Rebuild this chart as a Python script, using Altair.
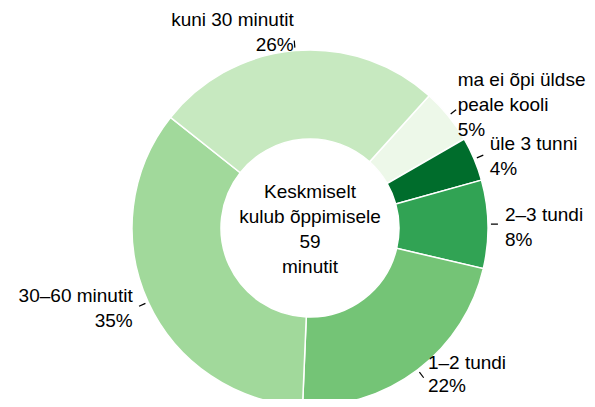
import math
import altair as alt
import pandas as pd

categories = ["ma ei õpi üldse peale kooli", "üle 3 tunni", "2–3 tundi", "1–2 tundi", "30–60 minutit", "kuni 30 minutit"]
labels = ["ma ei õpi üldse\npeale kooli\n5%", "üle 3 tunni\n4%", "2–3 tundi\n8%", "1–2 tundi\n22%", "30–60 minutit\n35%", "kuni 30 minutit\n26%"]
values = [5, 4, 8, 22, 35, 26]
colors = ["#edf8e9", "#006d2c", "#31a354", "#74c476", "#a1d99b", "#c7e9c0"]
center_text = "Keskmiselt\nkulub õppimisele\n59\nminutit"

START = 0.733
CX, CY = 302, 220
R_OUT, R_IN = 178, 89
FS = 19
LH = 25

df = pd.DataFrame({"category": categories, "label": labels, "value": values, "idx": list(range(len(values)))})

base = alt.Chart(df)
theta = alt.Theta("value:Q", stack=True, scale=alt.Scale(range=[START, START + 2 * math.pi]))
order = alt.Order("idx:Q", sort="ascending")
px = alt.value(CX)
py = alt.value(CY)

arcs = base.mark_arc(outerRadius=R_OUT, innerRadius=R_IN, stroke="white", strokeWidth=1.5).encode(
    theta=theta,
    order=order,
    x=px, y=py,
    color=alt.Color("category:N", scale=alt.Scale(domain=categories, range=colors), legend=None),
)


def label_layer(cats, align, dy, radius=195, lh=LH):
    return base.mark_text(
        align=align, dy=dy, radius=radius, baseline="middle", lineBreak="\n",
        font="Liberation Sans", fontSize=FS, lineHeight=lh, color="black",
    ).encode(
        theta=theta, order=order, x=px, y=py,
        text=alt.condition(alt.FieldOneOfPredicate(field="category", oneOf=cats), alt.Text("label:N"), alt.value("")),
    )


layers_labels = [
    label_layer(["ma ei õpi üldse peale kooli"], "left", -LH - 3, radius=190),
    label_layer(["üle 3 tunni", "2–3 tundi"], "left", -LH / 2 + 4),
    label_layer(["1–2 tundi"], "left", -20, lh=23),
    label_layer(["30–60 minutit", "kuni 30 minutit"], "right", -LH / 2 - 1),
]

ticks = base.transform_window(
    cum="sum(value)", sort=[alt.SortField("idx")], frame=[None, 0]
).transform_joinaggregate(
    total="sum(value)"
).transform_calculate(
    mid=f"{START} + 2*PI*(datum.cum - datum.value/2)/datum.total"
).transform_calculate(
    x1=f"{CX} + 181*sin(datum.mid)", y1=f"{CY} - 181*cos(datum.mid)",
    x2=f"{CX} + 188*sin(datum.mid)", y2=f"{CY} - 188*cos(datum.mid)",
).mark_rule(color="black", strokeWidth=1.2).encode(
    x=alt.X("x1:Q", scale=None), y=alt.Y("y1:Q", scale=None),
    x2="x2:Q", y2="y2:Q",
)

center = alt.Chart(pd.DataFrame({"t": [center_text]})).mark_text(
    align="center", baseline="middle", lineBreak="\n", font="Liberation Sans", fontSize=FS, lineHeight=LH,
    color="black", dy=-1.5 * LH + 1
).encode(x=alt.value(CX), y=alt.value(CY), text="t:N")

chart = alt.layer(arcs, ticks, *layers_labels, center).properties(
    width=579, height=391, autosize=alt.AutoSizeParams(type="none"), padding=0
).configure_view(stroke=None)

chart.save("out.html", embed_options={"renderer": "svg", "actions": False})
